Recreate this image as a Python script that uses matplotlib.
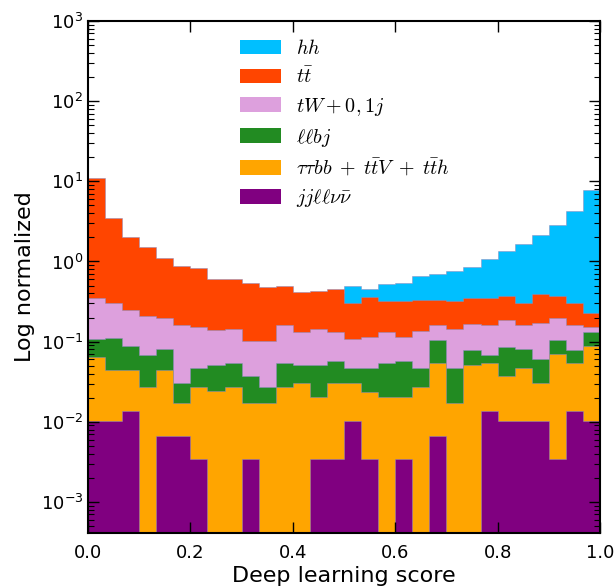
import numpy as np
import matplotlib
matplotlib.use("Agg")
import matplotlib.pyplot as plt
from matplotlib.font_manager import FontProperties
from matplotlib.ticker import LogLocator, FixedLocator

# 30 bins over the deep learning score
bin_edges = np.linspace(0.0, 1.0, 31)

hh = [0.30, 0.16, 0.12, 0.10, 0.10, 0.11, 0.12, 0.14, 0.16, 0.19, 0.22, 0.26, 0.30, 0.34, 0.40,
      0.497, 0.455, 0.526, 0.541, 0.668, 0.702, 0.757, 0.858, 1.06, 1.35, 1.66, 2.13, 2.84, 4.25, 7.79]
ttbar = [11.0, 3.45, 2.0, 1.51, 1.11, 0.866, 0.818, 0.596, 0.607, 0.546, 0.482, 0.49, 0.414, 0.434, 0.451,
         0.301, 0.358, 0.326, 0.319, 0.335, 0.335, 0.326, 0.355, 0.355, 0.376, 0.307, 0.398, 0.372, 0.305, 0.228]
tW = [0.355, 0.307, 0.251, 0.207, 0.198, 0.163, 0.153, 0.140, 0.145, 0.103, 0.103, 0.160, 0.131, 0.145, 0.131,
      0.109, 0.114, 0.132, 0.114, 0.135, 0.163, 0.143, 0.166, 0.163, 0.188, 0.163, 0.169, 0.198, 0.160, 0.151]
llbj = [0.108, 0.112, 0.0875, 0.068, 0.081, 0.0304, 0.0473, 0.051, 0.054, 0.0372, 0.0271, 0.054, 0.051, 0.051, 0.0573,
        0.0473, 0.0473, 0.054, 0.0573, 0.0473, 0.105, 0.0473, 0.078, 0.068, 0.085, 0.081, 0.0607, 0.105, 0.078, 0.132]
tautaubb = [0.0644, 0.0438, 0.0438, 0.0271, 0.0438, 0.0171, 0.0271, 0.0239, 0.0271, 0.0171, 0.0171, 0.0271, 0.0304, 0.0203, 0.0304,
            0.0304, 0.0237, 0.0203, 0.0203, 0.0271, 0.054, 0.0171, 0.051, 0.054, 0.0372, 0.0473, 0.0304, 0.0708, 0.054, 0.0875]
jjllvv = [0.0101, 0.0101, 0.0135, 0.0, 0.0067, 0.0067, 0.0034, 0.0, 0.0, 0.0034, 0.0, 0.0, 0.0, 0.0034, 0.0034,
          0.0101, 0.0034, 0.0, 0.0034, 0.0, 0.0067, 0.0, 0.0, 0.0135, 0.0101, 0.0101, 0.0101, 0.0034, 0.0135, 0.0101]

series = [
    (hh, "#00BFFF", r"$hh$"),
    (ttbar, "#FF4500", r"$t\bar{t}$"),
    (tW, "#DDA0DD", r"$tW+0,1j$"),
    (llbj, "#228B22", r"$\ell\ell bj$"),
    (tautaubb, "#FFA500", r"$\tau\tau bb\;+\;t\bar{t}V\;+\;t\bar{t}h$"),
    (jjllvv, "#800080", r"$jj\ell\ell\nu\bar{\nu}$"),
]

fig = plt.figure(figsize=(6.14, 5.87), dpi=100)
ax = fig.add_axes([88/614, 1 - 533/587, 512/614, 512/587])

centers = 0.5 * (bin_edges[:-1] + bin_edges[1:])
for vals, col, lab in series:
    ax.hist(centers, bins=bin_edges, weights=vals, histtype="stepfilled",
            facecolor=col, edgecolor=(0.55, 0.55, 0.75, 0.6), linewidth=0.6, label=lab)

ax.set_yscale("log")
ax.set_xlim(0, 1)
ax.set_ylim(4.1e-4, 1e3)
ax.xaxis.set_major_locator(FixedLocator([0.0, 0.2, 0.4, 0.6, 0.8, 1.0]))
ax.set_xticklabels(["0.0", "0.2", "0.4", "0.6", "0.8", "1.0"])
ax.yaxis.set_major_locator(LogLocator(base=10, numticks=20))
ax.yaxis.set_minor_locator(LogLocator(base=10, subs=np.arange(2, 10), numticks=20))

ax.tick_params(which="both", direction="in", top=True, right=True, labelsize=13)
ax.tick_params(which="major", length=8, width=1)
ax.tick_params(which="minor", length=4, width=0.8)
ax.tick_params(axis="x", pad=8)
for s in ax.spines.values():
    s.set_linewidth(1.5)

ax.set_xlabel("Deep learning score", fontsize=16, labelpad=3)
ax.set_ylabel("Log normalized", fontsize=16)

leg = ax.legend(loc="upper left", bbox_to_anchor=(0.297, 0.965), frameon=False,
                prop=FontProperties(size=14.5, math_fontfamily="cm"),
                handlelength=2.05, handleheight=0.75, handletextpad=0.75,
                labelspacing=0.44, borderpad=0, borderaxespad=0)
for h in leg.legend_handles:
    h.set_edgecolor("none")

fig.savefig("out.png", dpi=100)
